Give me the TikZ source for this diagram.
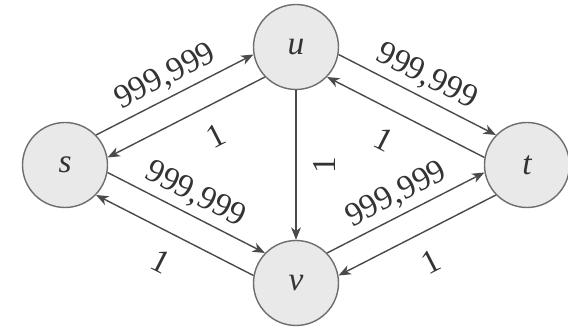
\documentclass[tikz,border=0pt]{standalone}
\usepackage{fontspec}
\setmainfont{Liberation Serif}
\usetikzlibrary{arrows.meta}

\definecolor{ringgray}{HTML}{6E6E6E}
\definecolor{discgray}{HTML}{E9E9E9}
\definecolor{edgegray}{HTML}{4A4A4A}
\definecolor{inkgray}{HTML}{333333}

\begin{document}
\begin{tikzpicture}[>={Stealth[length=7pt,width=5.5pt,inset=2pt]},
  font=\fontsize{19}{22}\selectfont, text=inkgray,
  vertex/.style={circle, draw=ringgray, fill=discgray, line width=0.8pt,
    minimum size=1.7cm, inner sep=0pt, font=\fontsize{19}{22}\selectfont\itshape},
  arc/.style={->, draw=edgegray, line width=0.8pt}]
\useasboundingbox (0,0) rectangle (11.36,-6.56);

% vertices
\node[vertex] (s) at (1.30,-3.30) {s};
\node[vertex] (u) at (5.92,-0.94) {u};
\node[vertex] (t) at (10.54,-3.30) {t};
\node[vertex] (v) at (5.92,-5.66) {v};

% s and u
\draw[arc] (s.44) -- (u.190) node[midway, sloped, above] {999,999};
\draw[arc] (u.224) -- (s.10) node[pos=0.4, sloped, below=7pt] {1};

% u and t
\draw[arc] (u.-10) -- (t.136) node[midway, sloped, above] {999,999};
\draw[arc] (t.170) -- (u.-44) node[pos=0.55, sloped, below=7pt] {1};

% s and v
\draw[arc] (s.-10) -- (v.136) node[midway, sloped, above] {999,999};
\draw[arc] (v.170) -- (s.-44) node[midway, sloped, below=7pt] {1};

% v and t
\draw[arc] (v.44) -- (t.190) node[midway, sloped, above] {999,999};
\draw[arc] (t.224) -- (v.10) node[midway, sloped, below=7pt] {1};

% u down to v
\draw[arc] (u) -- (v) node[midway, xshift=16pt, rotate=90] {1};

\end{tikzpicture}
\end{document}
